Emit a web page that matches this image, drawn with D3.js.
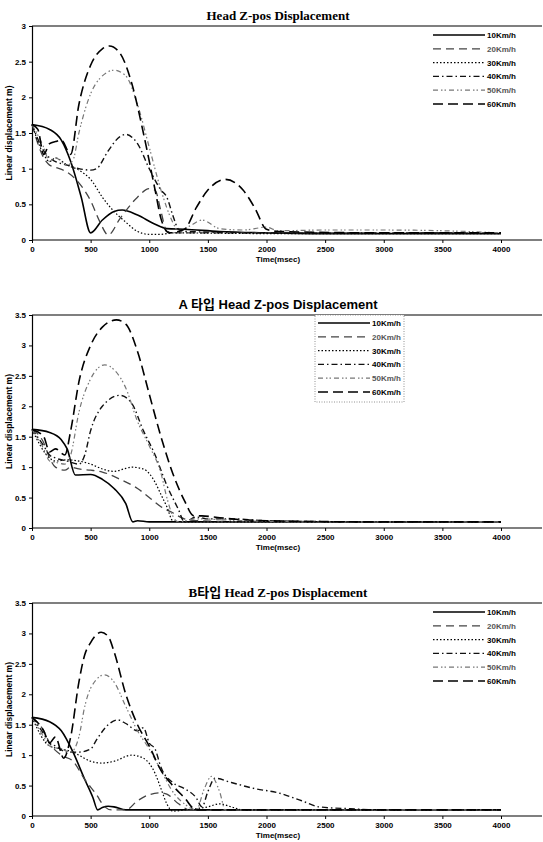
<!DOCTYPE html>
<html>
<head>
<meta charset="utf-8">
<script src="https://cdn.jsdelivr.net/npm/d3@7"></script>
<style>
    body { margin: 0; background: #fff; }
    .tick text { font-family: "Liberation Sans", Arial, sans-serif; font-weight: bold; font-size: 8px; }
    .leg text { font-family: "Liberation Sans", Arial, sans-serif; font-weight: bold; font-size: 8px; }
</style>
</head>
<body>
<div id="chart"></div>
<script>

// legend labels, one per series
let speeds = ['10Km/h', '20Km/h', '30Km/h', '40Km/h', '50Km/h', '60Km/h'];
let timeTicks = [0, 500, 1000, 1500, 2000, 2500, 3000, 3500, 4000];

// ---- chart 1 : Head Z-pos Displacement  ([time msec, displacement]) ----
let head10 = [[0,1.62],[150,1.55],[250,1.4],[330,1.1],[420,0.6],[500,0.1],[600,0.28],[700,0.4],[770,0.42],[900,0.35],[1050,0.22],[1150,0.16],[1300,0.15],[1600,0.12],[2000,0.1],[2500,0.09],[3000,0.09],[3500,0.09],[4000,0.09]];
let head20 = [[0,1.62],[100,1.15],[150,1.05],[200,1.02],[300,0.95],[400,0.8],[500,0.55],[580,0.25],[650,0.07],[750,0.3],[900,0.6],[1000,0.72],[1050,0.7],[1100,0.4],[1150,0.12],[1250,0.1],[2000,0.1],[3000,0.1],[4000,0.1]];
let head30 = [[0,1.62],[100,1.2],[150,1.1],[200,1.15],[300,1.05],[400,0.98],[500,0.85],[600,0.6],[700,0.4],[800,0.25],[900,0.12],[1000,0.08],[1100,0.08],[1200,0.1],[2000,0.09],[3000,0.09],[4000,0.09]];
let head40 = [[0,1.62],[100,1.25],[150,1.15],[200,1.1],[300,1.05],[400,1.0],[500,0.98],[550,1.0],[650,1.25],[750,1.45],[800,1.48],[900,1.35],[1000,1.0],[1100,0.7],[1150,0.6],[1200,0.35],[1250,0.15],[1300,0.12],[2000,0.1],[3000,0.1],[4000,0.1]];
let head50 = [[0,1.62],[100,1.3],[150,1.1],[200,1.15],[300,1.05],[350,1.12],[400,1.5],[500,2.05],[600,2.3],[700,2.38],[800,2.3],[900,1.9],[1000,1.3],[1100,0.7],[1200,0.25],[1250,0.12],[1350,0.2],[1450,0.28],[1600,0.16],[1800,0.14],[2000,0.18],[2100,0.13],[2500,0.14],[3000,0.14],[3500,0.13],[4000,0.1]];
let head60 = [[0,1.62],[50,1.55],[100,1.2],[150,1.35],[200,1.38],[250,1.4],[330,1.2],[400,1.9],[500,2.45],[600,2.68],[660,2.72],[750,2.62],[850,2.2],[950,1.5],[1050,0.7],[1100,0.3],[1170,0.1],[1300,0.15],[1400,0.45],[1500,0.7],[1650,0.85],[1800,0.7],[1900,0.45],[2000,0.15],[2100,0.12],[3000,0.1],[4000,0.1]];

// ---- chart 2 : A 타입 ----
let aHead10 = [[0,1.62],[150,1.57],[250,1.45],[300,1.3],[370,0.87],[500,0.88],[600,0.8],[700,0.65],[800,0.4],[860,0.1],[900,0.12],[1000,0.1],[2000,0.1],[3000,0.1],[4000,0.1]];
let aHead20 = [[0,1.62],[100,1.4],[150,1.15],[200,1.0],[280,0.95],[330,1.0],[400,0.97],[500,0.95],[600,0.92],[750,0.8],[900,0.65],[1000,0.5],[1100,0.35],[1200,0.25],[1300,0.15],[1400,0.12],[2000,0.1],[3000,0.1],[4000,0.1]];
let aHead30 = [[0,1.62],[150,1.15],[200,1.1],[300,1.12],[400,1.1],[500,1.05],[600,0.97],[700,0.93],[800,0.98],[850,1.0],[950,0.97],[1050,0.75],[1100,0.55],[1150,0.35],[1200,0.12],[1250,0.1],[2000,0.1],[3000,0.1],[4000,0.1]];
let aHead40 = [[0,1.62],[100,1.35],[150,1.2],[200,1.15],[300,1.1],[400,1.05],[450,1.2],[500,1.6],[600,2.0],[750,2.18],[850,2.05],[950,1.6],[1050,1.2],[1150,0.7],[1250,0.3],[1300,0.1],[1400,0.18],[1500,0.15],[1700,0.15],[2000,0.12],[3000,0.1],[4000,0.1]];
let aHead50 = [[0,1.62],[100,1.3],[150,1.1],[200,1.08],[280,1.05],[330,1.2],[400,1.9],[500,2.45],[620,2.68],[700,2.6],[800,2.3],[900,1.75],[1000,1.35],[1100,0.9],[1150,0.5],[1200,0.2],[1250,0.1],[1400,0.15],[1800,0.12],[2500,0.1],[4000,0.1]];
let aHead60 = [[0,1.62],[100,1.5],[150,1.25],[200,1.3],[280,1.2],[330,1.6],[400,2.4],[500,3.0],[600,3.3],[720,3.42],[800,3.35],[900,2.9],[1000,2.2],[1100,1.5],[1200,0.9],[1300,0.45],[1380,0.2],[1450,0.2],[1550,0.18],[1700,0.15],[2000,0.12],[3000,0.1],[4000,0.1]];

// ---- chart 3 : B타입 ----
let bHead10 = [[0,1.62],[150,1.55],[250,1.4],[350,1.05],[450,0.6],[520,0.3],[560,0.1],[600,0.14],[650,0.16],[700,0.15],[800,0.1],[2000,0.1],[3000,0.1],[4000,0.1]];
let bHead20 = [[0,1.62],[100,1.4],[150,1.2],[250,1.0],[350,0.9],[450,0.6],[550,0.35],[620,0.15],[680,0.1],[800,0.1],[900,0.25],[1000,0.35],[1100,0.38],[1150,0.36],[1250,0.2],[1350,0.1],[2000,0.1],[3000,0.1],[4000,0.1]];
let bHead30 = [[0,1.62],[150,1.15],[250,1.1],[350,1.05],[400,1.0],[500,0.9],[600,0.87],[700,0.9],[850,1.0],[950,0.95],[1050,0.7],[1100,0.45],[1150,0.2],[1200,0.08],[1300,0.1],[1500,0.15],[1600,0.2],[1700,0.15],[1800,0.1],[3000,0.1],[4000,0.1]];
let bHead40 = [[0,1.62],[100,1.35],[150,1.2],[200,1.15],[300,1.05],[400,1.05],[500,1.1],[550,1.25],[650,1.5],[730,1.58],[800,1.52],[900,1.4],[950,1.45],[1000,1.2],[1050,1.1],[1100,0.8],[1200,0.55],[1300,0.45],[1400,0.3],[1450,0.15],[1500,0.4],[1560,0.62],[1700,0.55],[1900,0.45],[2100,0.38],[2300,0.25],[2450,0.15],[2700,0.12],[3000,0.1],[4000,0.1]];
let bHead50 = [[0,1.62],[100,1.3],[150,1.15],[250,1.1],[330,1.05],[400,1.3],[450,1.8],[500,2.1],[620,2.32],[700,2.2],[800,1.8],[900,1.4],[1000,1.1],[1100,0.75],[1200,0.4],[1300,0.2],[1400,0.1],[1470,0.45],[1530,0.65],[1600,0.4],[1650,0.1],[2000,0.1],[4000,0.1]];
let bHead60 = [[0,1.62],[100,1.4],[150,1.2],[200,1.3],[270,0.95],[330,1.3],[400,2.2],[450,2.65],[500,2.85],[590,3.02],[650,2.95],[700,2.7],[800,2.0],[900,1.5],[1000,1.15],[1100,0.75],[1200,0.5],[1300,0.3],[1400,0.1],[2000,0.1],[3000,0.1],[4000,0.1]];

// line style per speed
let lineStyles = [
    {stroke: '#000', width: 1.6, dash: null},
    {stroke: '#444', width: 1.3, dash: '8,5'},
    {stroke: '#000', width: 1.2, dash: '1.5,2'},
    {stroke: '#111', width: 1.4, dash: '6,3,1.5,3'},
    {stroke: '#777', width: 1.2, dash: '5,3,1.5,2,1.5,3'},
    {stroke: '#000', width: 1.6, dash: '10,5'}
];

let svg = d3.select('#chart').append('svg')
    .attr('width', 543)
    .attr('height', 842);

function drawChart(cfg) {
    let left = 32, right = 501;

    let x = d3.scaleLinear().domain([0, 4000]).range([left, right]);
    let y = d3.scaleLinear().domain([0, cfg.yMax]).range([cfg.bottom, cfg.top]);

    let g = svg.append('g');

    // title
    g.append('text')
        .attr('x', 278)
        .attr('y', cfg.top - 6)
        .attr('text-anchor', 'middle')
        .style('font-family', cfg.titleFont)
        .style('font-weight', 'bold')
        .style('font-size', '13px')
        .text(cfg.title);

    // frame top + bottom running to the edge
    g.append('line')
        .attr('x1', left).attr('x2', 542)
        .attr('y1', cfg.top).attr('y2', cfg.top)
        .attr('stroke', '#000').attr('stroke-width', 1.2);
    g.append('line')
        .attr('x1', left).attr('x2', 542)
        .attr('y1', cfg.bottom).attr('y2', cfg.bottom)
        .attr('stroke', '#000').attr('stroke-width', 1.2);

    // axes
    let xAxis = d3.axisBottom(x).tickValues(timeTicks).tickSize(3).tickFormat(d3.format('d'));
    g.append('g')
        .attr('transform', `translate(0,${cfg.bottom})`)
        .call(xAxis)
        .call(a => a.select('.domain').remove());

    let yAxis = d3.axisLeft(y).tickValues(d3.range(0, cfg.yMax + 0.01, 0.5)).tickSize(3).tickFormat(d3.format('~g'));
    g.append('g')
        .attr('transform', `translate(${left},0)`)
        .call(yAxis)
        .call(a => a.select('.domain').attr('stroke-width', 1.2));

    // axis titles
    g.append('text')
        .attr('x', 278)
        .attr('y', cfg.bottom + 22)
        .attr('text-anchor', 'middle')
        .style('font-family', '"Liberation Sans", Arial, sans-serif')
        .style('font-weight', 'bold')
        .style('font-size', '8px')
        .text('Time(msec)');

    g.append('text')
        .attr('transform', `translate(12,${(cfg.top + cfg.bottom) / 2}) rotate(-90)`)
        .attr('text-anchor', 'middle')
        .style('font-family', '"Liberation Sans", Arial, sans-serif')
        .style('font-weight', 'bold')
        .style('font-size', '8.5px')
        .text('Linear displacement m)');

    // series lines
    let line = d3.line()
        .x(d => x(d[0]))
        .y(d => y(d[1]))
        .curve(d3.curveMonotoneX);

    cfg.series.forEach((s, i) => {
        let st = lineStyles[i];
        g.append('path')
            .datum(s)
            .attr('d', line)
            .attr('fill', 'none')
            .attr('stroke', st.stroke)
            .attr('stroke-width', st.width)
            .attr('stroke-dasharray', st.dash);
    });

    // legend
    let leg = g.append('g').attr('class', 'leg');
    if (cfg.legendBox) {
        leg.append('rect')
            .attr('x', cfg.legX - 3)
            .attr('y', cfg.top)
            .attr('width', 89)
            .attr('height', 87)
            .attr('fill', '#fff')
            .attr('stroke', '#777')
            .attr('stroke-width', 0.8)
            .attr('stroke-dasharray', '1,1.5');
    }
    speeds.forEach((sp, i) => {
        let st = lineStyles[i];
        let ly = cfg.legY + i * 13.8;
        leg.append('line')
            .attr('x1', cfg.legX).attr('x2', cfg.legX + 52)
            .attr('y1', ly).attr('y2', ly)
            .attr('stroke', st.stroke)
            .attr('stroke-width', st.width)
            .attr('stroke-dasharray', st.dash);
        leg.append('text')
            .attr('x', cfg.legX + 54)
            .attr('y', ly + 3)
            .attr('fill', i === 1 || i === 4 ? '#555' : '#000')
            .text(sp);
    });
}

drawChart({
    title: 'Head Z-pos Displacement',
    titleFont: '"Liberation Serif", "Times New Roman", serif',
    top: 26, bottom: 240, yMax: 3,
    series: [head10, head20, head30, head40, head50, head60],
    legX: 433, legY: 35, legendBox: false
});

drawChart({
    title: 'A 타입 Head Z-pos Displacement',
    titleFont: '"Liberation Sans", "Noto Sans CJK KR", Arial, sans-serif',
    top: 315, bottom: 528, yMax: 3.5,
    series: [aHead10, aHead20, aHead30, aHead40, aHead50, aHead60],
    legX: 318, legY: 323, legendBox: true
});

drawChart({
    title: 'B타입 Head Z-pos Displacement',
    titleFont: '"Liberation Serif", "Noto Sans CJK KR", "Times New Roman", serif',
    top: 603, bottom: 816, yMax: 3.5,
    series: [bHead10, bHead20, bHead30, bHead40, bHead50, bHead60],
    legX: 433, legY: 612, legendBox: false
});

</script>
</body>
</html>
